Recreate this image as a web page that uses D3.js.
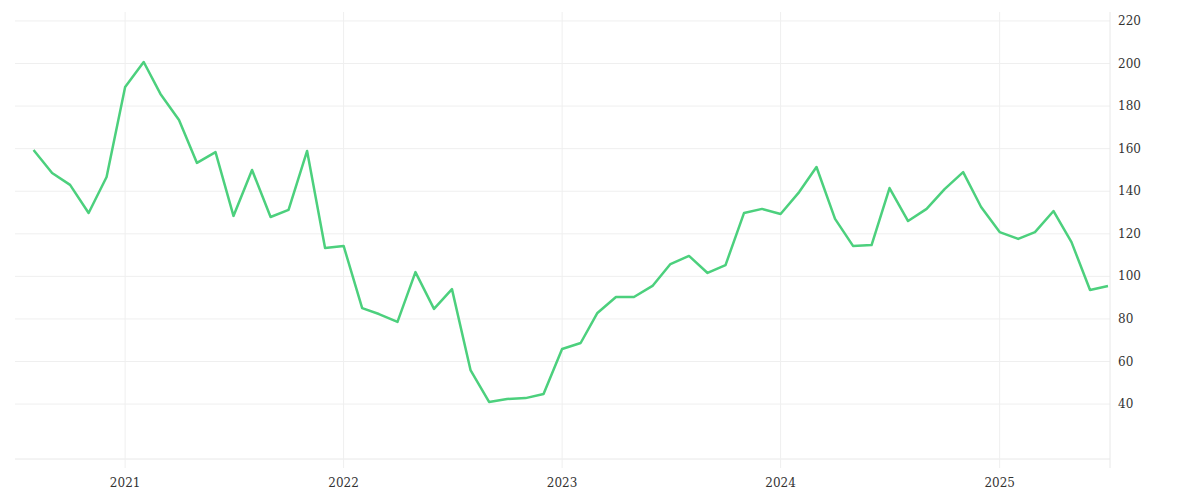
<!DOCTYPE html>
<html><head><meta charset="utf-8">
<script src="https://cdn.jsdelivr.net/npm/d3@7"></script>
<style>body{margin:0;background:#fff}</style>
</head><body>
<svg id="chart" width="1200" height="500"></svg>
<script>
// monthly values, Aug 2020 .. Jul 2025
var startMonth = [2020, 7];
var values = [159.4, 148.6, 143, 129.8, 146.7,
  189, 200.7, 185.7, 173.5, 153.3, 158.4, 128.4, 150, 127.9, 131.2, 158.9, 113.3,
  114.3, 85.1, 82.3, 78.6, 102, 84.7, 94, 56, 41, 42.4, 42.8, 44.7,
  65.9, 68.7, 82.8, 90.3, 90.3, 95.5, 105.8, 109.6, 101.6, 105.3, 129.8, 131.7,
  129.3, 139.6, 151.4, 127, 114.3, 114.7, 141.5, 126, 131.7, 141, 149, 132.6,
  120.8, 117.6, 120.8, 130.7, 116.1, 93.6, 95.5];
var yTicks = [40, 60, 80, 100, 120, 140, 160, 180, 200, 220];
var xTickYears = [2021, 2022, 2023, 2024, 2025];

var dates = values.map(function(v, i) { return new Date(startMonth[0], startMonth[1] + i, 1); });

var svg = d3.select("#chart");
var mLeft = 15, mRight = 1110, mTop = 12, mBottom = 459;

var x = d3.scaleTime()
  .domain([new Date(2020, 6, 1), new Date(2025, 6, 1)])
  .range([mLeft, 1108]);
var y = d3.scaleLinear().domain([14.2, 224.2]).range([mBottom, mTop]);

// grid
svg.append("g").selectAll("line").data(yTicks).join("line")
  .attr("x1", mLeft).attr("x2", mRight)
  .attr("y1", d => y(d)).attr("y2", d => y(d))
  .attr("stroke", "#efefef");
svg.append("line").attr("x1", mLeft).attr("x2", mRight)
  .attr("y1", mBottom).attr("y2", mBottom).attr("stroke", "#e8e8e8");
svg.append("g").selectAll("line").data(xTickYears).join("line")
  .attr("x1", d => x(new Date(d, 0, 1))).attr("x2", d => x(new Date(d, 0, 1)))
  .attr("y1", mTop).attr("y2", 468)
  .attr("stroke", "#efefef");
svg.append("line").attr("x1", mRight).attr("x2", mRight)
  .attr("y1", mTop).attr("y2", 468).attr("stroke", "#e8e8e8");

// labels
svg.append("g").selectAll("text").data(yTicks).join("text")
  .attr("x", 1118).attr("y", d => y(d) + 4)
  .attr("font-family", "DejaVu Serif").attr("font-size", 12).attr("fill", "#333")
  .text(d => d);
svg.append("g").selectAll("text").data(xTickYears).join("text")
  .attr("x", d => x(new Date(d, 0, 1))).attr("y", 487)
  .attr("text-anchor", "middle")
  .attr("font-family", "DejaVu Serif").attr("font-size", 12).attr("fill", "#333")
  .text(d => d);

// line
var line = d3.line().x((d, i) => x(dates[i])).y(d => y(d));
svg.append("path").datum(values)
  .attr("d", line)
  .attr("fill", "none")
  .attr("stroke", "#4cd07d")
  .attr("stroke-width", 2.5)
  .attr("stroke-linejoin", "round");
</script>
</body></html>
